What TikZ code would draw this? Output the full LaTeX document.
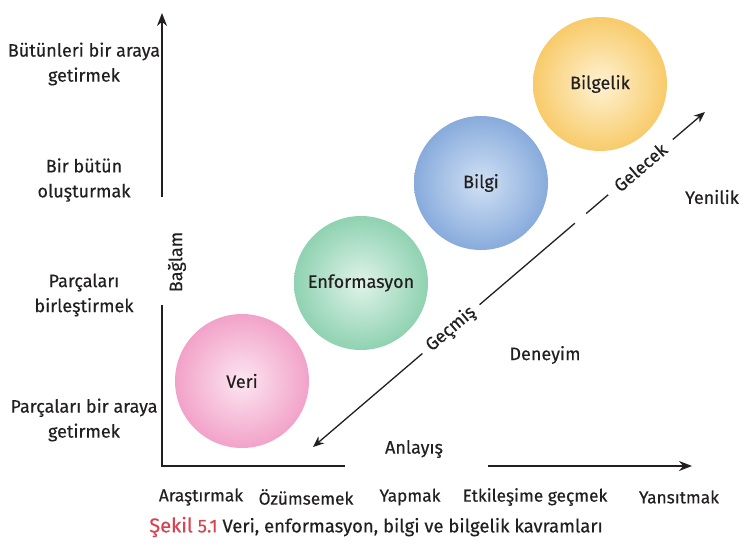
\documentclass[tikz,border=0pt]{standalone}
\usepackage{fontspec}
\setmainfont{Fira Sans}[FakeBold=0.35]
\usetikzlibrary{arrows.meta,calc}
\definecolor{txt}{HTML}{231F20}
\definecolor{pinkO}{HTML}{F2A2C9}
\definecolor{pinkI}{HTML}{FCE6F1}
\definecolor{greenO}{HTML}{8FD2B1}
\definecolor{greenI}{HTML}{E0F3E9}
\definecolor{blueO}{HTML}{88ABDC}
\definecolor{blueI}{HTML}{D0E1F4}
\definecolor{yellowO}{HTML}{F8CB6A}
\definecolor{yellowI}{HTML}{FEF2D3}
\definecolor{capred}{HTML}{D8434F}
\begin{document}
\begin{tikzpicture}[x=1pt,y=-1pt,
  lbl/.style={font=\fontsize{18}{25}\selectfont, text=txt, align=center, inner sep=0pt},
  blbl/.style={font=\fontsize{17.3}{25}\selectfont, text=txt, align=center, inner sep=0pt},
  ball/.style={circle, minimum size=134pt, inner sep=0pt, font=\fontsize{18}{20}\selectfont, text=txt, shading=radial},
  axis/.style={line width=1.6pt, draw=txt},
  arr/.style={line width=1.3pt, draw=txt, -{Stealth[length=11pt,width=9pt]}}]
\useasboundingbox (0,0) rectangle (739,543);

% circles
\node[ball, inner color=pinkI, outer color=pinkO] (veri) at (242,381) {Veri};
\node[ball, inner color=greenI, outer color=greenO] (enf) at (361,283) {Enformasyon};
\node[ball, inner color=blueI, outer color=blueO] (bilgi) at (481,183) {Bilgi};
\node[ball, inner color=yellowI, outer color=yellowO] (bilgelik) at (600,84) {Bilgelik};

% axes
\coordinate (ytop) at (162,13);
\coordinate (ymid) at (162,197);
\coordinate (ylow) at (162,305);
\coordinate (origin) at (162,466);
\coordinate (xmid) at (345,466);
\coordinate (xr) at (488,466);
\coordinate (xend) at (692,466);
\draw[axis, -{Stealth[length=13pt,width=10pt]}] (ymid) -- (ytop);
\draw[axis] (ylow) -- (origin) -- (xmid);
\draw[axis, -{Stealth[length=13pt,width=10pt]}] (xr) -- (xend);

\node[lbl, rotate=90] (baglam) at (177,262) {Bağlam};
\node[lbl] (anlayis) at (414,449) {Anlayış};
\node[lbl] (deneyim) at (545,355) {Deneyim};
\node[lbl] (yenilik) at (712,197) {Yenilik};

% left labels
\node[lbl] (l1) at (84,64) {Bütünleri bir araya\\getirmek};
\node[lbl] (l2) at (84,180) {Bir bütün\\oluşturmak};
\node[lbl] (l3) at (84,295) {Parçaları\\birleştirmek};
\node[lbl] (l4) at (84,420) {Parçaları bir araya\\getirmek};

% bottom labels
\node[blbl] (b1) at (201,497) {Araştırmak};
\node[blbl] (b2) at (306,497) {Özümsemek};
\node[blbl] (b3) at (410,497) {Yapmak};
\node[blbl] (b4) at (535,497) {Etkileşime geçmek};
\node[blbl] (b5) at (679,497) {Yansıtmak};

% diagonal time arrow
\coordinate (A) at (313,447);
\coordinate (B) at (705,112);
\coordinate (p1) at ($(A)!0.279!(B)$);
\node[lbl, rotate=40.5, anchor=center] (gecmis) at ($(A)!0.352!(B)$) {Geçmiş};
\coordinate (p2) at ($(A)!0.425!(B)$);
\coordinate (p3) at ($(A)!0.668!(B)$);
\coordinate (p4) at ($(A)!0.697!(B)$);
\coordinate (p5) at ($(A)!0.753!(B)$);
\node[lbl, rotate=40.5, anchor=center] (gelecek) at ($(A)!0.835!(B)$) {Gelecek};
\coordinate (p6) at ($(A)!0.918!(B)$);
\draw[arr] (p1) -- (A);
\draw[line width=1.3pt, draw=txt] (p2) -- (p3);
\draw[line width=1.3pt, draw=txt] (p4) -- (p5);
\draw[arr] (p6) -- (B);

% caption
\node[inner sep=0pt, font=\fontsize{18.5}{20}\selectfont, text=txt] (cap) at (376,527)
  {\textcolor{capred}{{\fontsize{20}{20}\selectfont Şekil} 5.1} Veri, enformasyon, bilgi ve bilgelik kavramları};
\end{tikzpicture}
\end{document}
